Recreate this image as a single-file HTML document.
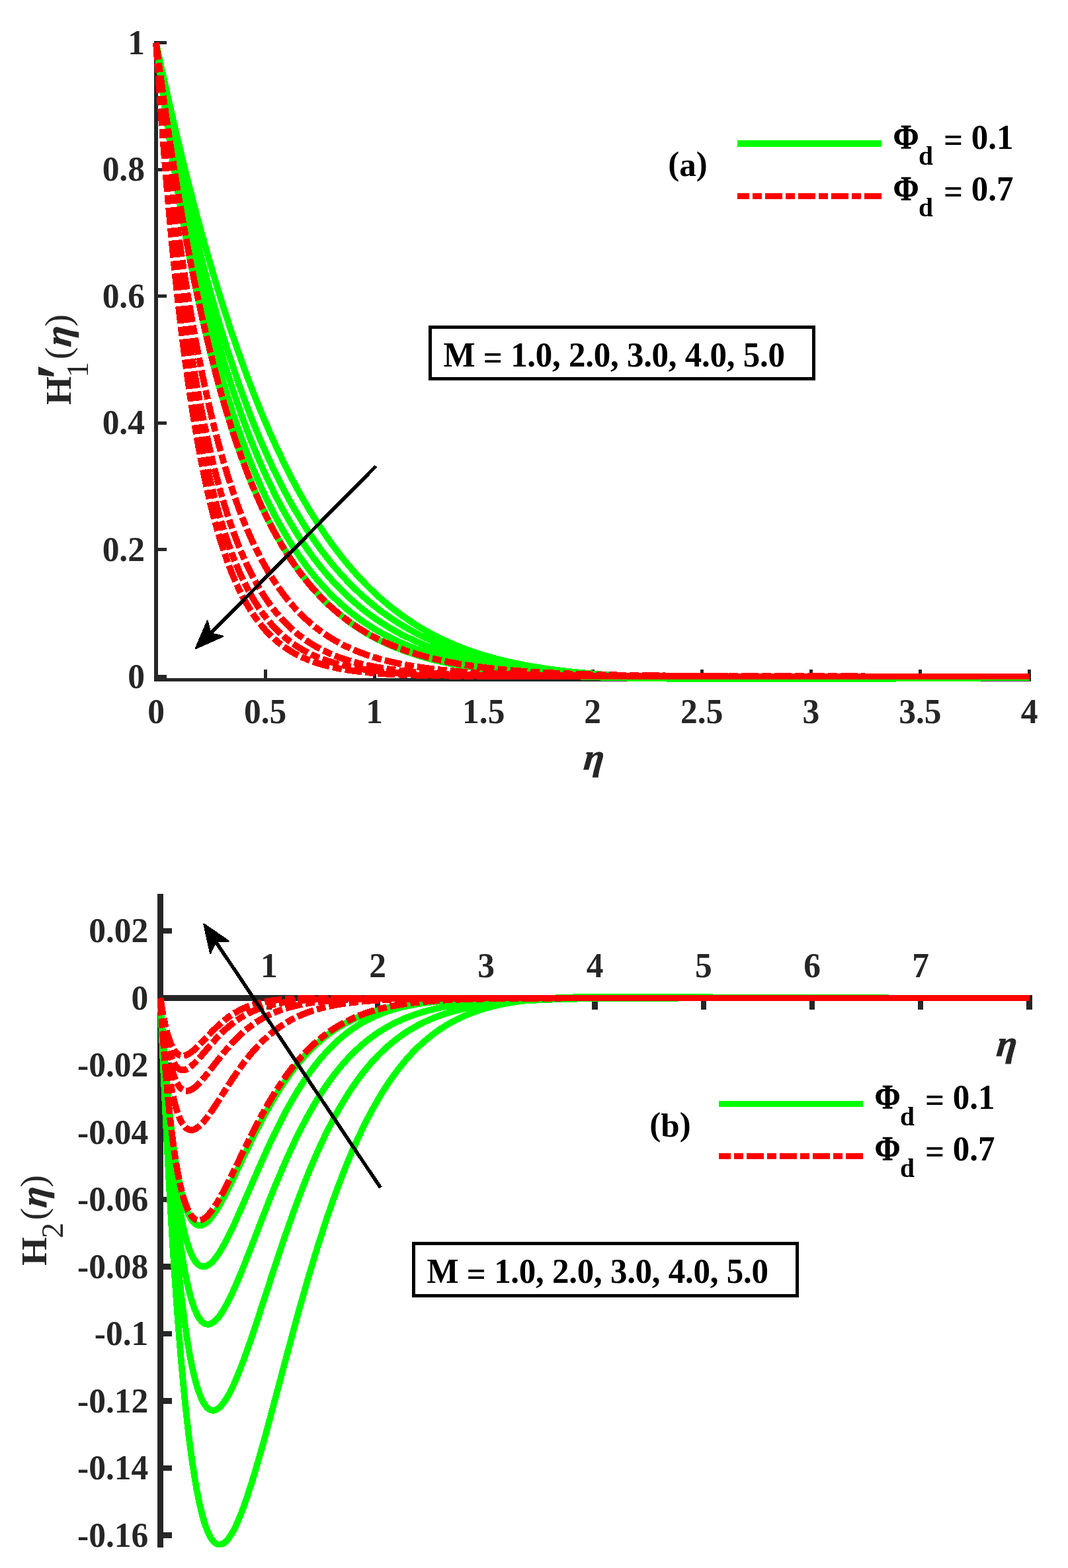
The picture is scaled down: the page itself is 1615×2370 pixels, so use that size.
<!DOCTYPE html>
<html lang="en"><head><meta charset="utf-8"><title>H1 and H2 profiles</title>
<style>html,body{margin:0;padding:0;background:#fff}svg{display:block}text{font-family:'Liberation Serif',serif;font-weight:bold;font-size:51.5px;fill:#262626}.k{fill:#000;font-size:51px}.lab{font-size:55.5px}.it{font-style:italic;stroke:#262626;stroke-width:0.9px}.rg{font-weight:normal}.g{fill:none;stroke:#00ff00;stroke-width:9.8;stroke-linejoin:round}.r{fill:none;stroke:#ff0000;stroke-width:9.8;stroke-dasharray:26 5 14 5;stroke-linejoin:round}.ax{stroke:#262626;fill:none}</style></head><body>
<svg width="1615" height="2370" viewBox="0 0 1615 2370" role="img" aria-label="Velocity profiles H1 prime and H2 versus eta for several M">
<rect width="1615" height="2370" fill="#fff"/>
<g id="top" shape-rendering="crispEdges">
<rect x="233" y="62" width="5.7" height="968" fill="#262626"/>
<rect x="233" y="1025" width="1326" height="5" fill="#262626"/>
<rect x="236" y="1020.0" width="16" height="5" fill="#262626"/>
<rect x="236" y="828.4" width="16" height="5" fill="#262626"/>
<rect x="236" y="636.8" width="16" height="5" fill="#262626"/>
<rect x="236" y="445.2" width="16" height="5" fill="#262626"/>
<rect x="236" y="253.6" width="16" height="5" fill="#262626"/>
<rect x="236" y="62.0" width="16" height="5" fill="#262626"/>
<rect x="233.5" y="1012" width="5" height="16" fill="#262626"/>
<rect x="398.6" y="1012" width="5" height="16" fill="#262626"/>
<rect x="563.6" y="1012" width="5" height="16" fill="#262626"/>
<rect x="728.7" y="1012" width="5" height="16" fill="#262626"/>
<rect x="893.8" y="1012" width="5" height="16" fill="#262626"/>
<rect x="1058.8" y="1012" width="5" height="16" fill="#262626"/>
<rect x="1223.9" y="1012" width="5" height="16" fill="#262626"/>
<rect x="1388.9" y="1012" width="5" height="16" fill="#262626"/>
<rect x="1554.0" y="1012" width="5" height="16" fill="#262626"/>
</g>
<g id="top-ticklabels">
<text transform="translate(219,1039.5) scale(1,1.04)" text-anchor="end">0</text>
<text transform="translate(219,847.9) scale(1,1.04)" text-anchor="end">0.2</text>
<text transform="translate(219,656.3) scale(1,1.04)" text-anchor="end">0.4</text>
<text transform="translate(219,464.7) scale(1,1.04)" text-anchor="end">0.6</text>
<text transform="translate(219,273.1) scale(1,1.04)" text-anchor="end">0.8</text>
<text transform="translate(219,81.5) scale(1,1.04)" text-anchor="end">1</text>
<text transform="translate(236.0,1093.3) scale(1,1.04)" text-anchor="middle">0</text>
<text transform="translate(401.1,1093.3) scale(1,1.04)" text-anchor="middle">0.5</text>
<text transform="translate(566.1,1093.3) scale(1,1.04)" text-anchor="middle">1</text>
<text transform="translate(731.2,1093.3) scale(1,1.04)" text-anchor="middle">1.5</text>
<text transform="translate(896.2,1093.3) scale(1,1.04)" text-anchor="middle">2</text>
<text transform="translate(1061.3,1093.3) scale(1,1.04)" text-anchor="middle">2.5</text>
<text transform="translate(1226.4,1093.3) scale(1,1.04)" text-anchor="middle">3</text>
<text transform="translate(1391.4,1093.3) scale(1,1.04)" text-anchor="middle">3.5</text>
<text transform="translate(1556.5,1093.3) scale(1,1.04)" text-anchor="middle">4</text>
</g>
<text class="lab it" transform="translate(881.6,1163.0) skewX(-6)">η</text>
<g transform="translate(107.0,612.0) rotate(-90)">
<text class="lab" x="0" y="0">H</text>
<text x="36.4" y="15.5" style="font-size:100px">′</text>
<text class="rg" x="41.6" y="26.0" style="font-size:47px">1</text>
<text class="lab rg" x="68.8" y="-1.3">(</text>
<text class="lab it" transform="translate(87.0,0.0) skewX(-6)">η</text>
<text class="lab rg" x="118.4" y="-1.3">)</text>
</g>
<clipPath id="ct"><rect x="229" y="62" width="1330" height="970"/></clipPath>
<g id="top-curves" shape-rendering="crispEdges" clip-path="url(#ct)">
<path class="g" d="M236.0,64.5 L245.8,110.2 L255.8,155.0 L265.7,198.1 L275.8,240.1 L285.9,280.6 L295.9,319.2 L306.2,357.1 L316.5,393.7 L326.9,428.7 L337.4,462.9 L347.8,495.1 L353.2,511.0 L358.6,526.9 L364.2,542.6 L369.5,557.4 L374.9,572.0 L380.4,586.4 L386.0,600.7 L391.3,614.0 L397.0,627.9 L402.5,640.9 L408.0,653.6 L413.6,666.2 L419.3,678.6 L425.1,690.7 L430.9,702.7 L436.7,714.4 L442.7,725.9 L448.3,736.5 L454.4,747.5 L460.2,757.6 L466.4,768.2 L472.3,777.9 L478.6,788.0 L484.6,797.2 L491.0,806.8 L497.1,815.6 L503.3,824.2 L509.9,833.0 L516.2,841.1 L522.9,849.5 L529.3,857.1 L536.1,865.0 L542.6,872.2 L549.6,879.5 L556.2,886.2 L563.2,893.1 L569.9,899.4 L577.1,905.9 L584.4,912.1 L591.6,918.0 L599.0,923.7 L606.4,929.3 L612.5,933.6 L619.2,938.1 L625.8,942.5 L632.5,946.7 L639.3,950.7 L646.1,954.6 L652.9,958.3 L660.3,962.1 L667.2,965.5 L674.6,969.0 L682.1,972.4 L689.6,975.5 L697.2,978.6 L704.8,981.5 L712.5,984.2 L720.7,987.0 L728.5,989.5 L736.8,991.9 L745.1,994.3 L753.5,996.5 L762.0,998.6 L771.0,1000.7 L780.0,1002.7 L789.2,1004.5 L798.3,1006.3 L808.1,1007.9 L817.9,1009.5 L828.3,1011.1 L849.3,1013.8 L871.1,1016.2 L893.2,1018.2 L916.7,1019.9 L942.1,1021.5 L969.1,1022.8 L998.1,1023.8 L1029.9,1024.7 L1064.5,1025.4 L1103.3,1025.9 L1131.7,1026.2 L1167.3,1026.3 L1210.9,1026.3 L1261.1,1026.2 L1386.8,1025.4 L1556.5,1024.0"/>
<path class="g" d="M236.0,64.5 L244.3,110.5 L252.7,154.9 L261.1,197.8 L269.7,239.6 L278.5,280.1 L287.3,319.2 L296.4,357.2 L305.5,393.6 L314.8,429.1 L324.0,462.5 L333.4,494.6 L338.2,510.4 L343.1,526.1 L348.1,541.6 L352.9,556.1 L358.0,571.3 L363.0,585.4 L368.0,599.4 L373.1,613.1 L378.2,626.6 L383.5,639.9 L388.8,653.0 L393.8,665.1 L399.3,677.7 L404.4,689.3 L410.0,701.4 L415.3,712.6 L421.0,724.2 L426.4,734.9 L432.2,746.0 L437.8,756.2 L443.4,766.2 L449.1,775.9 L454.8,785.4 L460.9,795.2 L466.7,804.2 L473.0,813.5 L478.9,822.0 L485.3,830.8 L491.4,838.8 L497.9,847.1 L504.0,854.7 L510.7,862.4 L517.3,869.9 L524.1,877.2 L530.9,884.2 L537.7,890.9 L544.6,897.5 L551.6,903.7 L558.6,909.8 L565.7,915.6 L572.9,921.2 L580.5,926.9 L586.9,931.4 L593.8,936.1 L600.3,940.3 L607.3,944.7 L613.9,948.6 L620.9,952.6 L628.1,956.4 L635.2,960.1 L642.5,963.6 L649.7,967.0 L657.1,970.2 L664.9,973.5 L672.8,976.6 L680.7,979.6 L688.7,982.4 L696.7,985.1 L704.8,987.6 L713.5,990.2 L722.1,992.6 L730.9,994.9 L739.7,997.0 L749.1,999.1 L758.5,1001.2 L768.0,1003.0 L777.5,1004.8 L787.6,1006.5 L797.8,1008.2 L808.1,1009.7 L829.9,1012.5 L853.0,1015.0 L876.5,1017.2 L901.4,1019.0 L928.3,1020.7 L956.7,1022.1 L987.8,1023.2 L1021.1,1024.2 L1058.0,1025.0 L1098.5,1025.6 L1129.9,1026.0 L1165.5,1026.1 L1210.3,1026.2 L1261.7,1026.1 L1388.2,1025.4 L1556.5,1024.0"/>
<path class="g" d="M236.0,64.5 L243.6,111.6 L251.2,156.9 L258.9,200.8 L266.7,243.0 L274.7,283.6 L282.8,323.4 L291.1,361.9 L299.5,398.6 L308.0,434.1 L316.8,468.4 L321.2,485.3 L325.6,501.2 L330.0,516.8 L334.5,532.4 L339.0,547.7 L343.7,562.8 L348.4,577.7 L352.9,591.6 L357.8,606.0 L362.4,619.4 L367.4,633.4 L372.2,646.4 L377.3,659.8 L382.2,672.3 L387.2,684.4 L392.2,696.4 L397.3,708.1 L402.5,719.5 L407.7,730.6 L413.0,741.5 L418.3,752.2 L423.7,762.6 L429.2,772.7 L434.7,782.5 L440.2,792.1 L445.9,801.4 L451.5,810.5 L457.3,819.3 L463.1,827.8 L468.9,836.1 L474.8,844.1 L481.2,852.4 L487.2,859.9 L493.7,867.6 L499.8,874.7 L506.4,881.9 L512.6,888.4 L519.3,895.1 L526.1,901.5 L532.9,907.7 L539.8,913.7 L546.7,919.4 L553.7,924.9 L561.1,930.5 L567.4,934.9 L573.7,939.2 L580.1,943.3 L586.9,947.5 L593.8,951.6 L600.7,955.5 L607.7,959.2 L614.8,962.7 L621.8,966.1 L629.4,969.6 L636.6,972.7 L644.3,975.8 L652.0,978.8 L659.8,981.6 L667.7,984.3 L675.6,986.9 L684.0,989.4 L692.5,991.9 L701.0,994.2 L709.6,996.3 L718.3,998.4 L727.5,1000.4 L736.8,1002.3 L746.6,1004.2 L756.5,1005.9 L766.5,1007.5 L787.1,1010.5 L809.1,1013.2 L832.0,1015.6 L855.7,1017.6 L881.3,1019.4 L908.5,1021.0 L938.2,1022.3 L969.6,1023.4 L1004.4,1024.4 L1042.1,1025.1 L1084.7,1025.7 L1127.5,1026.1 L1153.1,1026.2 L1199.0,1026.3 L1252.1,1026.1 L1383.5,1025.4 L1556.5,1024.0"/>
<path class="g" d="M236.0,64.5 L242.9,112.3 L249.9,158.8 L256.9,203.2 L264.2,246.6 L271.5,288.0 L279.1,328.5 L286.7,367.3 L294.4,404.2 L302.2,439.8 L310.2,473.9 L314.3,490.8 L318.5,507.4 L322.8,523.9 L326.9,539.2 L331.3,555.3 L335.5,570.2 L339.8,584.8 L344.2,599.2 L348.7,613.4 L353.2,627.3 L357.8,641.0 L362.1,653.6 L366.8,666.7 L371.6,679.5 L376.4,692.1 L381.0,703.6 L386.0,715.7 L390.7,726.6 L395.4,737.4 L400.5,748.6 L405.4,758.8 L410.7,769.4 L415.6,779.0 L421.0,789.1 L426.1,798.2 L431.6,807.7 L437.1,816.8 L442.7,825.7 L448.0,833.8 L453.7,842.2 L459.5,850.3 L465.3,858.1 L471.1,865.6 L477.1,872.9 L483.1,879.9 L489.5,887.1 L495.6,893.6 L502.1,900.3 L508.3,906.3 L515.0,912.4 L521.7,918.3 L528.5,924.0 L535.3,929.4 L542.6,934.8 L548.7,939.2 L554.9,943.4 L561.1,947.4 L567.4,951.2 L573.7,954.9 L580.5,958.7 L587.4,962.3 L594.2,965.8 L601.2,969.1 L608.2,972.2 L615.2,975.2 L622.7,978.3 L630.3,981.1 L637.9,983.9 L645.6,986.5 L653.8,989.0 L661.7,991.4 L670.0,993.7 L678.4,995.9 L687.3,998.0 L696.3,1000.1 L705.3,1002.0 L714.4,1003.8 L724.1,1005.5 L733.8,1007.2 L743.6,1008.7 L764.5,1011.6 L786.6,1014.2 L809.6,1016.4 L833.5,1018.3 L859.4,1020.0 L887.2,1021.4 L917.2,1022.7 L949.4,1023.7 L984.9,1024.6 L1024.6,1025.3 L1068.6,1025.8 L1140.9,1026.3 L1185.9,1026.4 L1240.0,1026.2 L1376.8,1025.5 L1556.5,1024.0"/>
<path class="g" d="M236.0,64.5 L242.5,113.6 L249.0,160.5 L255.6,205.7 L262.4,249.6 L269.4,292.2 L276.4,332.7 L283.6,372.5 L290.9,410.2 L298.4,446.4 L305.9,481.1 L310.0,498.7 L313.8,515.0 L317.7,531.2 L321.8,547.1 L325.8,562.8 L330.0,578.3 L334.2,593.5 L338.2,607.5 L342.6,622.2 L346.7,635.7 L350.9,648.9 L355.2,661.9 L359.8,675.4 L364.2,687.8 L368.6,699.9 L373.1,711.8 L377.6,723.3 L382.2,734.6 L386.9,745.6 L391.6,756.3 L396.4,766.7 L401.2,776.9 L406.1,786.7 L411.3,796.9 L416.3,806.2 L421.3,815.2 L426.4,823.9 L431.9,832.9 L437.1,841.1 L442.7,849.5 L448.0,857.1 L453.7,865.0 L459.5,872.6 L465.3,879.8 L471.1,886.9 L477.1,893.6 L483.1,900.1 L489.1,906.3 L495.2,912.3 L501.7,918.4 L508.3,924.2 L515.0,929.8 L521.7,935.1 L528.5,940.2 L534.1,944.2 L540.2,948.3 L546.3,952.2 L552.4,956.0 L558.6,959.6 L565.3,963.3 L571.6,966.6 L578.4,969.9 L585.2,973.1 L592.1,976.1 L599.0,979.0 L606.0,981.8 L613.4,984.5 L620.9,987.1 L628.5,989.6 L636.1,992.0 L643.8,994.2 L652.0,996.4 L660.3,998.5 L669.0,1000.5 L677.4,1002.3 L686.3,1004.1 L695.3,1005.8 L704.8,1007.5 L724.1,1010.4 L744.6,1013.1 L766.0,1015.4 L789.2,1017.5 L813.3,1019.3 L838.8,1020.8 L866.8,1022.2 L897.0,1023.3 L929.9,1024.2 L965.7,1025.0 L1006.1,1025.6 L1051.5,1026.0 L1132.3,1026.5 L1174.7,1026.5 L1226.7,1026.4 L1370.2,1025.5 L1556.5,1024.0"/>
<path class="r" d="M236.0,64.5 L242.5,113.4 L249.0,160.3 L255.8,206.4 L262.6,250.2 L269.5,292.9 L276.5,333.5 L283.6,372.3 L290.9,410.0 L298.4,446.3 L305.9,481.0 L313.6,514.0 L317.5,530.2 L321.5,546.2 L325.6,562.0 L329.7,577.5 L333.9,592.8 L337.9,606.9 L342.3,621.6 L346.4,635.1 L350.6,648.4 L354.9,661.4 L359.5,675.0 L363.9,687.5 L368.3,699.6 L372.8,711.5 L377.3,723.1 L381.9,734.4 L386.6,745.5 L391.3,756.2 L396.0,766.7 L400.9,776.8 L405.7,786.7 L410.7,796.3 L415.6,805.6 L420.7,814.6 L425.7,823.4 L431.2,832.4 L436.4,840.6 L442.0,849.0 L447.3,856.7 L453.0,864.5 L458.4,871.6 L464.2,878.9 L470.0,886.0 L476.0,892.7 L481.9,899.2 L488.0,905.4 L494.0,911.4 L500.6,917.5 L506.8,922.9 L513.4,928.5 L520.1,933.8 L526.9,938.8 L532.5,942.8 L538.5,946.9 L544.2,950.5 L550.4,954.3 L556.6,957.9 L562.8,961.3 L569.1,964.6 L575.4,967.7 L581.8,970.7 L588.6,973.7 L595.1,976.4 L602.0,979.2 L609.0,981.8 L616.5,984.4 L623.6,986.7 L631.2,989.0 L638.8,991.2 L646.5,993.3 L654.3,995.2 L662.6,997.2 L670.9,999.0 L679.3,1000.7 L688.2,1002.4 L697.2,1004.0 L715.9,1006.8 L735.3,1009.4 L756.0,1011.6 L778.5,1013.7 L798.9,1015.2 L820.5,1016.5 L844.0,1017.7 L869.0,1018.7 L895.9,1019.5 L925.5,1020.3 L957.2,1020.8 L992.9,1021.3 L1069.2,1021.9 L1169.8,1022.3 L1307.6,1022.4 L1556.5,1022.5"/>
<path class="r" d="M236.0,64.5 L241.3,116.6 L246.6,166.3 L252.0,213.8 L257.5,260.1 L263.2,304.6 L269.0,347.4 L275.0,389.1 L281.0,428.1 L287.1,465.3 L293.5,501.8 L299.9,536.2 L306.4,568.3 L313.1,599.4 L316.5,614.5 L320.0,629.3 L323.5,643.8 L327.1,657.9 L330.8,671.7 L334.5,685.2 L338.2,698.4 L342.0,711.2 L345.6,722.8 L349.5,734.9 L353.2,745.9 L357.2,757.4 L361.2,768.6 L365.3,779.4 L369.5,789.8 L373.7,800.0 L377.9,809.8 L382.2,819.2 L386.6,828.4 L391.0,837.2 L395.4,845.7 L399.9,854.0 L404.4,861.9 L409.3,870.0 L414.0,877.3 L419.0,884.8 L423.7,891.5 L428.8,898.5 L434.0,905.1 L439.2,911.4 L444.4,917.4 L450.1,923.5 L455.5,929.0 L461.3,934.6 L467.1,939.8 L473.0,944.8 L478.9,949.6 L484.9,954.1 L489.9,957.6 L494.8,960.9 L499.8,964.1 L505.2,967.3 L510.7,970.4 L516.2,973.4 L521.7,976.2 L527.3,978.8 L532.9,981.3 L538.9,983.9 L545.1,986.3 L551.2,988.6 L557.4,990.8 L564.1,992.9 L570.4,994.8 L577.1,996.8 L583.9,998.5 L590.8,1000.2 L598.1,1001.9 L605.5,1003.5 L620.9,1006.3 L637.5,1008.9 L654.8,1011.2 L673.2,1013.2 L692.9,1015.0 L713.9,1016.5 L732.8,1017.6 L753.0,1018.5 L775.0,1019.3 L798.9,1020.0 L824.7,1020.6 L853.0,1021.1 L884.5,1021.5 L920.5,1021.8 L996.9,1022.2 L1100.9,1022.4 L1556.5,1022.5"/>
<path class="r" d="M236.0,64.5 L240.6,118.3 L245.2,170.1 L250.0,219.9 L254.9,267.9 L259.8,313.6 L264.9,357.3 L270.1,399.6 L275.4,440.1 L280.8,478.7 L286.5,516.3 L292.2,551.5 L297.9,584.3 L303.8,615.8 L310.0,646.1 L313.1,660.7 L316.3,674.9 L319.5,688.8 L322.8,702.3 L325.8,714.5 L329.2,727.3 L332.6,739.8 L336.1,751.9 L339.6,763.6 L343.1,774.9 L346.7,785.9 L350.4,796.5 L354.0,806.8 L357.8,816.7 L361.5,826.3 L365.3,835.5 L369.2,844.4 L373.1,852.9 L377.0,861.2 L381.3,869.7 L385.3,877.2 L389.7,885.1 L394.1,892.5 L398.6,899.7 L403.1,906.5 L407.7,913.0 L412.3,919.2 L417.0,925.1 L421.7,930.7 L426.8,936.4 L431.9,941.8 L437.1,947.0 L442.3,951.8 L447.6,956.4 L453.0,960.7 L458.7,965.0 L463.1,968.1 L467.5,971.0 L471.9,973.8 L476.7,976.7 L481.6,979.4 L486.4,982.0 L491.4,984.4 L496.3,986.8 L501.3,988.9 L506.8,991.2 L512.2,993.3 L517.7,995.2 L523.3,997.1 L529.3,998.9 L541.0,1002.2 L553.3,1005.1 L566.6,1007.8 L580.5,1010.2 L595.5,1012.3 L611.7,1014.2 L628.5,1015.8 L647.0,1017.2 L666.7,1018.3 L684.0,1019.2 L702.4,1019.9 L722.1,1020.4 L744.1,1020.9 L794.3,1021.7 L858.3,1022.1 L929.4,1022.3 L1030.4,1022.5 L1556.5,1022.5"/>
<path class="r" d="M236.0,64.5 L240.2,119.9 L244.4,172.8 L248.8,224.2 L253.2,273.4 L257.7,320.0 L262.4,365.7 L267.1,408.3 L271.9,449.0 L276.7,487.4 L281.8,524.9 L287.1,561.3 L292.4,594.9 L297.9,627.2 L303.6,658.1 L306.6,673.5 L309.5,687.4 L315.3,714.1 L318.2,726.9 L321.2,739.3 L324.3,751.4 L327.4,763.1 L330.5,774.4 L333.7,785.4 L336.9,796.0 L340.4,807.1 L343.7,817.0 L347.3,827.3 L350.6,836.5 L354.3,846.0 L357.8,854.5 L361.5,863.3 L365.3,871.7 L369.2,879.8 L373.1,887.6 L377.0,894.9 L381.0,902.0 L385.0,908.7 L389.1,915.1 L393.5,921.7 L397.6,927.5 L402.2,933.5 L406.7,939.1 L411.3,944.4 L416.0,949.4 L421.0,954.5 L426.1,959.2 L431.2,963.7 L436.4,967.9 L441.6,971.9 L445.5,974.6 L449.8,977.4 L453.7,979.9 L458.0,982.4 L462.4,984.8 L466.7,987.1 L471.1,989.3 L476.0,991.5 L480.8,993.6 L485.7,995.5 L495.6,999.1 L506.0,1002.3 L517.3,1005.3 L528.9,1008.0 L541.4,1010.3 L554.5,1012.4 L568.3,1014.2 L583.1,1015.8 L599.0,1017.2 L616.5,1018.3 L635.2,1019.3 L651.1,1020.0 L668.1,1020.5 L706.7,1021.4 L754.0,1021.9 L815.3,1022.3 L882.4,1022.4 L980.4,1022.5 L1556.5,1022.5"/>
<path class="r" d="M236.0,64.5 L239.8,121.0 L243.8,175.2 L247.8,227.3 L251.8,276.8 L256.1,324.9 L260.3,370.3 L264.7,414.0 L269.2,455.7 L273.7,494.9 L278.5,533.0 L283.2,568.5 L288.2,602.6 L293.3,635.3 L298.6,666.4 L304.1,696.0 L309.5,722.7 L315.0,747.9 L317.7,759.5 L320.7,771.7 L323.5,782.5 L326.6,793.9 L329.7,804.8 L332.9,815.4 L336.1,825.6 L339.3,835.4 L342.6,844.9 L345.9,853.9 L349.2,862.6 L352.6,870.9 L356.0,878.9 L359.8,887.2 L363.3,894.5 L367.1,902.0 L370.7,908.6 L374.6,915.4 L378.5,921.9 L382.5,928.1 L386.6,933.9 L391.0,939.9 L395.1,945.1 L399.6,950.4 L404.1,955.4 L408.7,960.1 L413.3,964.5 L418.3,968.9 L423.0,972.7 L428.1,976.6 L431.9,979.2 L435.7,981.8 L439.5,984.2 L443.4,986.4 L447.3,988.6 L451.5,990.8 L455.8,992.9 L460.2,994.8 L464.5,996.7 L469.3,998.6 L478.6,1001.8 L488.3,1004.8 L498.6,1007.4 L509.5,1009.8 L520.9,1011.9 L533.3,1013.8 L546.3,1015.4 L560.3,1016.8 L575.8,1018.1 L592.5,1019.1 L610.4,1019.9 L624.9,1020.5 L641.1,1020.9 L677.9,1021.6 L722.6,1022.1 L781.6,1022.3 L939.9,1022.5 L1556.5,1022.5"/>
</g>
<g shape-rendering="crispEdges">
<path class="g" d="M1115.0,217.0 H1333.0"/>
<path class="r" stroke-dashoffset="8" d="M1115.0,296.5 H1334.0"/>
</g>
<text class="k" transform="translate(1350.7,225.0) scale(0.915,1.04)" stroke="#000" stroke-width="0.7">Φ</text>
<text class="k" x="1389.1" y="248.7" style="font-size:39.5px">d</text>
<text class="k" transform="translate(1427.0,225.0) scale(1,1.05)"><tspan dy="3.6">=</tspan><tspan dy="-3.6"> 0.1</tspan></text>
<text class="k" transform="translate(1350.7,303.0) scale(0.915,1.04)" stroke="#000" stroke-width="0.7">Φ</text>
<text class="k" x="1389.1" y="326.7" style="font-size:39.5px">d</text>
<text class="k" transform="translate(1427.0,303.0) scale(1,1.05)"><tspan dy="3.6">=</tspan><tspan dy="-3.6"> 0.7</tspan></text>
<text class="k" x="1010.3" y="266.0"><tspan dy="-2.2">(</tspan><tspan dy="2.2">a</tspan><tspan dy="-2.2">)</tspan></text>
<rect x="650.5" y="494.5" width="580.0" height="78.0" fill="#fff" stroke="#000" stroke-width="5" shape-rendering="crispEdges"/>
<text class="k" transform="translate(670.5,554.0) scale(1,1.03)" style="letter-spacing:-0.27px">M <tspan dy="4">=</tspan><tspan dy="-4"> 1.0, 2.0, 3.0, 4.0, 5.0</tspan></text>
<line x1="568.5" y1="704.5" x2="318.4" y2="957.3" stroke="#000" stroke-width="5.5" shape-rendering="crispEdges"/>
<polygon fill="#000" stroke="#000" stroke-width="2.4" stroke-linejoin="round" shape-rendering="crispEdges" points="296.0,980.0 313.7,938.6 318.4,957.3 337.2,961.8"/>
<g id="bottom" shape-rendering="crispEdges">
<rect x="238.3" y="1351" width="8.4" height="988" fill="#262626"/>
<rect x="238.3" y="1504.3" width="1322.8" height="8.4" fill="#262626"/>
<rect x="242" y="2316.3" width="18.2" height="8.4" fill="#262626"/>
<rect x="242" y="2214.8" width="18.2" height="8.4" fill="#262626"/>
<rect x="242" y="2113.3" width="18.2" height="8.4" fill="#262626"/>
<rect x="242" y="2011.8" width="18.2" height="8.4" fill="#262626"/>
<rect x="242" y="1910.3" width="18.2" height="8.4" fill="#262626"/>
<rect x="242" y="1808.8" width="18.2" height="8.4" fill="#262626"/>
<rect x="242" y="1707.3" width="18.2" height="8.4" fill="#262626"/>
<rect x="242" y="1605.8" width="18.2" height="8.4" fill="#262626"/>
<rect x="242" y="1402.8" width="18.2" height="8.4" fill="#262626"/>
<rect x="402.6" y="1508" width="8.4" height="17.8" fill="#262626"/>
<rect x="566.8" y="1508" width="8.4" height="17.8" fill="#262626"/>
<rect x="731.0" y="1508" width="8.4" height="17.8" fill="#262626"/>
<rect x="895.3" y="1508" width="8.4" height="17.8" fill="#262626"/>
<rect x="1059.5" y="1508" width="8.4" height="17.8" fill="#262626"/>
<rect x="1223.8" y="1508" width="8.4" height="17.8" fill="#262626"/>
<rect x="1388.0" y="1508" width="8.4" height="17.8" fill="#262626"/>
<rect x="1552.3" y="1508" width="8.4" height="17.8" fill="#262626"/>
</g>
<g id="bottom-ticklabels">
<text transform="translate(224.3,2337.5) scale(1,1.04)" text-anchor="end">-0.16</text>
<text transform="translate(224.3,2236.0) scale(1,1.04)" text-anchor="end">-0.14</text>
<text transform="translate(224.3,2134.5) scale(1,1.04)" text-anchor="end">-0.12</text>
<text transform="translate(224.3,2033.0) scale(1,1.04)" text-anchor="end">-0.1</text>
<text transform="translate(224.3,1931.5) scale(1,1.04)" text-anchor="end">-0.08</text>
<text transform="translate(224.3,1830.0) scale(1,1.04)" text-anchor="end">-0.06</text>
<text transform="translate(224.3,1728.5) scale(1,1.04)" text-anchor="end">-0.04</text>
<text transform="translate(224.3,1627.0) scale(1,1.04)" text-anchor="end">-0.02</text>
<text transform="translate(224.3,1525.5) scale(1,1.04)" text-anchor="end">0</text>
<text transform="translate(224.3,1424.0) scale(1,1.04)" text-anchor="end">0.02</text>
<text transform="translate(406.8,1477.3) scale(1,1.04)" text-anchor="middle">1</text>
<text transform="translate(571.0,1477.3) scale(1,1.04)" text-anchor="middle">2</text>
<text transform="translate(735.2,1477.3) scale(1,1.04)" text-anchor="middle">3</text>
<text transform="translate(899.5,1477.3) scale(1,1.04)" text-anchor="middle">4</text>
<text transform="translate(1063.8,1477.3) scale(1,1.04)" text-anchor="middle">5</text>
<text transform="translate(1228.0,1477.3) scale(1,1.04)" text-anchor="middle">6</text>
<text transform="translate(1392.2,1477.3) scale(1,1.04)" text-anchor="middle">7</text>
</g>
<text class="lab it" transform="translate(1505.8,1595.5) skewX(-6)">η</text>
<g transform="translate(70.0,1913.0) rotate(-90)">
<text class="lab" x="0" y="0">H</text>
<text class="rg" x="41.6" y="25.0" style="font-size:47px">2</text>
<text class="lab rg" x="68.8" y="-1.3">(</text>
<text class="lab it" transform="translate(87.0,0.0) skewX(-6)">η</text>
<text class="lab rg" x="118.4" y="-1.3">)</text>
</g>
<clipPath id="cb"><rect x="236" y="1351.5" width="1326" height="987.3"/></clipPath>
<g id="bottom-curves" shape-rendering="crispEdges" clip-path="url(#cb)">
<path class="g" d="M242.5,1508.5 L247.0,1613.4 L251.6,1710.1 L254.0,1755.9 L256.3,1799.1 L258.7,1840.9 L261.1,1880.9 L263.6,1919.7 L266.1,1956.0 L268.6,1990.5 L271.2,2023.2 L273.7,2054.0 L276.4,2083.7 L279.0,2111.3 L281.8,2137.6 L284.5,2161.8 L287.3,2184.6 L290.1,2205.3 L292.9,2224.5 L295.8,2242.3 L298.8,2258.7 L301.9,2273.5 L304.9,2286.2 L306.5,2292.2 L308.1,2297.9 L309.8,2303.1 L311.3,2307.6 L313.0,2312.1 L314.5,2315.8 L316.1,2319.3 L317.8,2322.6 L319.4,2325.3 L321.2,2327.8 L322.9,2330.0 L324.7,2331.7 L326.4,2332.9 L328.2,2333.9 L330.0,2334.5 L331.9,2334.7 L332.9,2334.7 L334.1,2334.5 L335.2,2334.1 L336.4,2333.7 L338.7,2332.3 L341.1,2330.4 L343.5,2327.9 L346.0,2324.9 L348.4,2321.3 L351.1,2317.0 L353.6,2312.5 L356.3,2307.1 L359.0,2301.2 L361.7,2294.8 L364.5,2287.9 L367.5,2280.1 L370.5,2271.8 L373.7,2262.5 L378.7,2247.3 L383.9,2230.4 L389.4,2211.8 L395.4,2191.0 L401.1,2170.5 L407.4,2147.1 L434.7,2044.7 L447.5,1997.2 L454.4,1972.4 L461.2,1948.5 L467.8,1925.7 L474.1,1904.6 L481.4,1881.0 L488.6,1858.7 L495.8,1836.9 L502.9,1816.4 L510.1,1796.6 L517.1,1778.0 L524.2,1760.0 L531.4,1742.8 L539.0,1725.6 L546.6,1709.3 L554.3,1693.7 L561.8,1679.3 L569.7,1665.3 L577.6,1652.0 L585.6,1639.4 L589.6,1633.6 L593.8,1627.7 L597.7,1622.2 L602.0,1616.6 L606.2,1611.2 L610.5,1606.0 L614.8,1600.9 L619.2,1596.1 L623.5,1591.4 L627.9,1586.9 L632.3,1582.6 L637.0,1578.2 L641.4,1574.2 L646.2,1570.1 L650.7,1566.5 L655.5,1562.8 L660.3,1559.3 L665.1,1555.9 L673.5,1550.5 L682.2,1545.4 L690.9,1540.8 L700.1,1536.5 L709.3,1532.5 L718.9,1528.9 L728.9,1525.6 L739.3,1522.6 L749.8,1519.9 L761.0,1517.5 L772.3,1515.4 L784.4,1513.5 L797.2,1511.9 L810.5,1510.5 L824.6,1509.4 L839.8,1508.4 L859.3,1507.6 L881.1,1507.0 L905.3,1506.6 L933.5,1506.5 L978.2,1506.7 L1120.2,1507.7 L1209.9,1508.1 L1343.9,1508.4 L1556.5,1508.5"/>
<path class="g" d="M242.5,1508.5 L246.5,1587.6 L250.5,1660.5 L254.7,1728.1 L256.8,1759.2 L258.9,1789.7 L261.1,1819.2 L263.3,1846.6 L265.6,1872.6 L267.8,1897.2 L270.1,1921.1 L272.5,1943.3 L274.8,1963.9 L277.2,1983.6 L279.7,2002.2 L282.2,2019.1 L284.7,2035.0 L287.2,2049.2 L289.9,2062.9 L292.5,2074.9 L295.2,2085.8 L297.9,2095.5 L300.7,2104.1 L303.6,2111.6 L305.1,2114.8 L306.5,2117.8 L308.0,2120.5 L309.5,2122.9 L311.0,2125.0 L312.6,2126.9 L314.1,2128.4 L315.7,2129.6 L317.3,2130.6 L318.9,2131.3 L320.5,2131.7 L322.1,2131.8 L324.0,2131.6 L326.1,2131.0 L328.2,2130.0 L330.3,2128.6 L332.5,2126.7 L334.6,2124.5 L336.8,2121.9 L339.0,2119.0 L341.3,2115.6 L343.7,2111.7 L346.1,2107.4 L348.6,2102.7 L351.1,2097.6 L353.6,2092.2 L359.0,2079.7 L363.4,2068.8 L368.0,2056.6 L372.9,2043.2 L378.2,2028.0 L388.9,1996.2 L414.0,1919.2 L426.1,1882.9 L432.6,1863.7 L438.9,1845.9 L445.0,1828.7 L451.1,1812.5 L458.0,1794.3 L464.8,1777.1 L471.5,1760.8 L478.3,1745.1 L485.2,1729.8 L491.9,1715.6 L498.8,1701.9 L505.4,1689.1 L512.9,1675.7 L520.2,1663.3 L527.6,1651.5 L535.1,1640.3 L542.6,1629.7 L550.3,1619.7 L558.0,1610.3 L566.1,1601.2 L574.3,1592.7 L578.4,1588.7 L582.5,1584.9 L590.9,1577.5 L595.1,1574.1 L599.6,1570.6 L603.8,1567.4 L608.4,1564.1 L612.9,1561.1 L617.5,1558.1 L622.2,1555.3 L627.1,1552.4 L631.8,1549.8 L636.7,1547.3 L645.4,1543.1 L654.1,1539.3 L663.2,1535.8 L672.3,1532.6 L681.9,1529.6 L691.8,1526.9 L702.1,1524.4 L712.9,1522.1 L724.0,1520.1 L735.9,1518.2 L748.2,1516.6 L761.0,1515.2 L774.5,1513.9 L789.2,1512.8 L804.6,1511.9 L821.3,1511.1 L849.5,1510.1 L882.5,1509.4 L921.5,1509.0 L970.6,1508.7 L1093.9,1508.5 L1556.5,1508.5"/>
<path class="g" d="M242.5,1508.5 L246.0,1570.9 L249.6,1629.2 L253.4,1682.4 L257.2,1731.9 L259.2,1755.2 L261.1,1776.6 L263.1,1797.0 L265.2,1816.8 L267.2,1835.4 L269.3,1852.6 L271.4,1869.2 L273.6,1885.0 L275.8,1899.3 L278.1,1912.9 L280.3,1925.1 L282.6,1936.4 L284.9,1946.9 L287.3,1956.5 L289.7,1965.2 L292.3,1973.0 L294.8,1979.8 L297.3,1985.5 L298.6,1988.0 L300.0,1990.5 L301.3,1992.6 L302.8,1994.6 L304.1,1996.2 L305.5,1997.7 L306.9,1998.9 L308.4,2000.0 L309.8,2000.7 L311.3,2001.3 L312.7,2001.6 L314.3,2001.7 L316.0,2001.6 L317.8,2001.2 L319.7,2000.4 L321.6,1999.3 L323.5,1998.0 L325.4,1996.3 L327.4,1994.4 L329.5,1992.0 L331.5,1989.5 L333.6,1986.6 L335.8,1983.3 L338.0,1979.8 L342.6,1971.7 L347.5,1962.2 L351.4,1954.0 L355.6,1944.6 L360.1,1934.2 L364.9,1922.8 L374.8,1898.0 L398.5,1836.6 L410.0,1807.3 L416.3,1791.7 L422.4,1777.3 L428.3,1763.4 L434.0,1750.3 L440.7,1735.6 L447.3,1721.7 L453.8,1708.6 L460.3,1696.0 L467.0,1683.7 L473.5,1672.3 L480.1,1661.3 L486.5,1651.1 L493.8,1640.3 L500.8,1630.4 L508.0,1621.0 L515.2,1612.0 L522.6,1603.6 L530.2,1595.4 L538.0,1587.8 L545.8,1580.6 L553.8,1573.9 L562.1,1567.5 L570.4,1561.6 L578.9,1556.2 L587.7,1551.0 L596.9,1546.2 L606.2,1541.8 L615.9,1537.7 L624.1,1534.7 L632.6,1531.8 L641.4,1529.0 L650.4,1526.6 L660.0,1524.3 L669.7,1522.2 L679.8,1520.3 L690.3,1518.6 L701.2,1517.1 L712.6,1515.7 L724.6,1514.5 L737.4,1513.4 L751.0,1512.5 L765.4,1511.6 L780.5,1510.9 L797.2,1510.3 L825.2,1509.6 L857.6,1509.1 L896.3,1508.8 L945.6,1508.6 L1071.4,1508.5 L1556.5,1508.5"/>
<path class="g" d="M242.5,1508.5 L245.6,1560.0 L248.8,1607.8 L252.1,1651.9 L255.6,1692.4 L259.1,1729.3 L260.9,1746.4 L262.7,1762.4 L264.6,1777.9 L266.5,1792.2 L268.5,1805.9 L270.4,1818.5 L272.4,1830.4 L274.4,1841.1 L276.5,1851.6 L278.5,1860.9 L280.7,1869.5 L282.9,1877.4 L285.1,1884.5 L287.4,1890.9 L289.6,1896.3 L292.0,1901.1 L294.5,1905.2 L295.7,1907.0 L297.0,1908.6 L298.3,1909.9 L299.5,1911.1 L300.8,1912.1 L302.2,1913.0 L303.5,1913.6 L304.8,1914.1 L306.2,1914.3 L307.6,1914.4 L309.3,1914.3 L311.0,1913.9 L312.7,1913.3 L314.5,1912.4 L316.4,1911.2 L318.2,1909.8 L320.1,1908.1 L322.0,1906.2 L323.9,1904.0 L326.0,1901.5 L330.0,1895.8 L334.3,1889.0 L339.0,1880.8 L342.8,1873.8 L346.7,1866.0 L351.1,1857.0 L355.6,1847.2 L365.0,1826.1 L387.5,1774.4 L398.3,1749.9 L404.2,1736.8 L409.8,1724.7 L415.4,1713.1 L420.8,1702.1 L427.1,1689.8 L433.2,1678.1 L439.3,1667.2 L445.5,1656.5 L451.5,1646.6 L457.6,1637.0 L463.8,1627.7 L469.8,1619.2 L476.3,1610.4 L483.0,1602.1 L489.7,1594.3 L496.5,1586.8 L503.4,1579.8 L510.3,1573.2 L517.4,1567.1 L524.5,1561.4 L531.9,1555.9 L539.5,1550.8 L547.1,1546.2 L555.0,1541.8 L563.1,1537.8 L571.5,1534.1 L579.9,1530.8 L588.8,1527.7 L595.9,1525.5 L603.0,1523.5 L610.5,1521.7 L618.1,1520.0 L626.3,1518.4 L634.5,1517.0 L643.1,1515.7 L652.1,1514.6 L661.4,1513.6 L671.2,1512.7 L681.6,1511.9 L692.4,1511.2 L703.9,1510.6 L716.5,1510.1 L744.8,1509.4 L767.2,1509.0 L794.0,1508.8 L869.1,1508.5 L1556.5,1508.5"/>
<path class="g" d="M242.5,1508.5 L245.4,1552.2 L248.4,1592.5 L251.4,1629.9 L254.6,1664.1 L257.8,1695.1 L261.1,1723.4 L262.8,1736.1 L264.5,1748.4 L266.3,1760.1 L268.1,1770.8 L270.0,1781.0 L271.8,1790.1 L273.7,1799.1 L275.6,1807.1 L277.6,1814.4 L279.6,1821.1 L281.7,1827.2 L283.7,1832.4 L285.8,1837.1 L287.9,1841.1 L290.1,1844.4 L292.4,1847.3 L293.5,1848.4 L294.7,1849.5 L295.8,1850.3 L297.1,1851.0 L298.3,1851.5 L299.5,1852.0 L300.7,1852.2 L302.0,1852.3 L303.5,1852.2 L304.9,1851.9 L306.4,1851.4 L308.0,1850.7 L309.5,1849.8 L311.2,1848.7 L312.7,1847.5 L314.4,1846.0 L317.8,1842.4 L321.4,1837.9 L325.3,1832.4 L329.2,1826.3 L332.5,1820.7 L335.9,1814.5 L339.6,1807.6 L343.7,1799.8 L352.2,1782.6 L372.9,1739.1 L383.2,1717.9 L388.9,1706.7 L394.3,1696.3 L399.6,1686.3 L404.8,1676.9 L410.8,1666.3 L416.7,1656.3 L422.7,1646.7 L428.7,1637.6 L434.7,1628.9 L440.5,1620.8 L446.5,1613.0 L452.5,1605.6 L459.1,1598.0 L465.7,1590.8 L472.4,1584.1 L479.2,1577.7 L486.1,1571.7 L493.3,1565.9 L500.4,1560.6 L507.8,1555.6 L515.2,1550.9 L523.0,1546.5 L531.0,1542.4 L539.0,1538.7 L547.3,1535.2 L556.0,1532.0 L565.1,1529.0 L574.3,1526.3 L581.8,1524.3 L589.6,1522.5 L597.7,1520.8 L606.0,1519.3 L614.6,1517.9 L623.5,1516.6 L632.9,1515.4 L642.8,1514.4 L652.9,1513.4 L663.7,1512.6 L675.2,1511.9 L687.1,1511.2 L713.5,1510.2 L743.9,1509.5 L769.4,1509.1 L799.8,1508.8 L884.2,1508.6 L1556.5,1508.5"/>
<path class="r" d="M242.5,1508.5 L245.3,1551.6 L248.2,1591.2 L251.2,1627.8 L254.3,1661.2 L257.4,1691.3 L260.6,1718.7 L262.3,1731.3 L264.0,1743.4 L265.7,1754.5 L267.5,1765.1 L269.3,1775.1 L271.1,1784.2 L272.9,1792.6 L274.8,1800.4 L276.7,1807.7 L278.6,1814.0 L280.7,1819.9 L282.7,1825.0 L284.7,1829.5 L286.9,1833.6 L289.0,1836.9 L291.3,1839.7 L293.5,1841.7 L294.6,1842.5 L295.8,1843.3 L297.0,1843.8 L298.3,1844.2 L299.4,1844.4 L300.7,1844.5 L302.2,1844.4 L303.6,1844.1 L305.1,1843.6 L306.7,1842.9 L308.1,1842.1 L309.8,1841.0 L311.3,1839.8 L313.0,1838.3 L316.4,1834.7 L319.8,1830.5 L323.5,1825.4 L327.5,1819.2 L330.7,1813.8 L334.2,1807.7 L337.9,1801.0 L341.7,1793.6 L350.1,1776.9 L370.9,1734.3 L381.1,1713.6 L386.7,1702.7 L392.3,1692.1 L397.6,1682.4 L402.7,1673.2 L408.7,1662.9 L414.6,1653.2 L420.6,1643.8 L426.5,1634.9 L432.4,1626.4 L438.3,1618.5 L444.4,1610.6 L450.4,1603.4 L456.9,1596.0 L463.5,1588.9 L470.2,1582.3 L477.2,1575.8 L484.1,1570.0 L491.3,1564.3 L498.3,1559.2 L505.7,1554.2 L513.1,1549.7 L520.9,1545.3 L528.8,1541.4 L537.0,1537.6 L545.3,1534.2 L554.0,1531.0 L563.1,1528.1 L572.2,1525.5 L579.7,1523.6 L587.5,1521.8 L595.3,1520.2 L603.6,1518.8 L612.1,1517.4 L620.8,1516.2 L630.1,1515.1 L639.8,1514.1 L649.8,1513.2 L660.3,1512.4 L671.5,1511.7 L683.3,1511.0 L709.3,1510.1 L739.3,1509.4 L764.4,1509.0 L794.0,1508.8 L876.3,1508.5 L1556.5,1508.5"/>
<path class="r" d="M242.5,1508.5 L244.8,1534.0 L247.1,1557.3 L249.6,1579.1 L252.0,1599.0 L254.6,1616.8 L257.2,1633.3 L259.9,1647.7 L262.7,1660.7 L264.1,1666.6 L265.6,1672.1 L267.1,1677.2 L268.5,1681.8 L270.1,1686.0 L271.6,1689.8 L273.2,1693.3 L274.8,1696.4 L276.5,1699.2 L278.2,1701.5 L279.9,1703.5 L281.7,1705.2 L283.5,1706.4 L285.3,1707.3 L287.2,1707.8 L289.1,1708.0 L291.3,1707.8 L293.6,1707.1 L296.0,1706.0 L298.5,1704.4 L301.1,1702.4 L303.7,1700.0 L306.5,1697.1 L309.5,1693.6 L314.7,1687.0 L320.5,1678.7 L327.1,1668.8 L344.0,1642.3 L352.3,1629.6 L361.3,1616.6 L365.5,1610.7 L369.8,1604.9 L374.8,1598.6 L379.7,1592.5 L384.6,1586.9 L389.4,1581.6 L394.5,1576.3 L399.4,1571.5 L404.4,1566.9 L409.5,1562.5 L415.0,1558.1 L420.6,1553.9 L426.3,1550.0 L432.2,1546.2 L438.3,1542.6 L444.4,1539.4 L450.6,1536.3 L457.2,1533.5 L463.8,1530.8 L470.7,1528.4 L477.7,1526.1 L485.0,1524.0 L492.6,1522.1 L500.4,1520.4 L508.5,1518.8 L517.1,1517.3 L531.0,1515.4 L545.8,1513.8 L562.1,1512.4 L579.9,1511.3 L599.6,1510.5 L621.9,1509.8 L647.6,1509.3 L678.1,1508.9 L735.3,1508.6 L824.6,1508.5 L1556.5,1508.5"/>
<path class="r" d="M242.5,1508.5 L244.4,1526.3 L246.4,1542.7 L248.5,1558.0 L250.6,1572.0 L252.8,1584.8 L255.0,1596.3 L257.3,1606.6 L259.7,1615.8 L262.1,1623.6 L264.7,1630.5 L266.0,1633.5 L267.3,1636.2 L268.7,1638.7 L270.1,1640.8 L271.5,1642.8 L272.9,1644.4 L274.4,1645.8 L275.9,1646.9 L277.4,1647.8 L279.0,1648.4 L280.6,1648.8 L282.3,1648.9 L284.1,1648.8 L286.0,1648.3 L288.0,1647.6 L290.2,1646.5 L292.4,1645.1 L294.6,1643.4 L297.0,1641.4 L299.4,1639.0 L303.8,1634.4 L308.8,1628.7 L314.5,1621.5 L329.2,1602.6 L336.5,1593.4 L344.4,1584.0 L352.0,1575.6 L356.4,1570.9 L360.8,1566.6 L365.2,1562.5 L369.5,1558.6 L373.9,1555.0 L378.4,1551.5 L382.9,1548.1 L387.3,1545.1 L392.3,1541.9 L397.4,1538.9 L402.5,1536.1 L407.8,1533.5 L413.1,1531.1 L418.7,1528.8 L424.3,1526.7 L430.2,1524.7 L436.3,1522.9 L442.6,1521.2 L449.0,1519.7 L455.7,1518.2 L462.7,1517.0 L469.8,1515.8 L477.4,1514.7 L485.4,1513.8 L497.6,1512.6 L511.0,1511.6 L525.4,1510.8 L541.7,1510.1 L559.5,1509.6 L579.7,1509.2 L603.3,1508.9 L631.8,1508.7 L683.6,1508.6 L766.9,1508.5 L1556.5,1508.5"/>
<path class="r" d="M242.5,1508.5 L244.2,1522.3 L245.9,1535.1 L247.6,1547.0 L249.5,1557.9 L251.3,1567.7 L253.2,1576.7 L255.2,1584.7 L257.2,1591.6 L259.3,1597.6 L261.4,1602.9 L263.7,1607.5 L264.9,1609.4 L266.0,1611.1 L267.2,1612.5 L268.5,1613.8 L269.7,1614.9 L271.0,1615.8 L272.3,1616.5 L273.6,1617.0 L275.0,1617.3 L276.5,1617.4 L278.1,1617.3 L279.7,1617.0 L281.4,1616.4 L283.2,1615.6 L285.0,1614.5 L286.9,1613.3 L288.9,1611.7 L291.0,1609.9 L295.4,1605.7 L300.5,1600.3 L305.3,1594.8 L318.2,1579.6 L325.3,1571.7 L331.2,1565.4 L336.8,1559.8 L340.7,1556.2 L344.4,1552.8 L348.3,1549.6 L352.2,1546.5 L356.1,1543.5 L360.0,1540.8 L363.9,1538.3 L367.8,1535.9 L372.2,1533.4 L376.8,1531.0 L381.3,1528.9 L386.0,1526.9 L390.9,1525.0 L395.7,1523.2 L400.9,1521.6 L406.1,1520.1 L411.6,1518.7 L417.1,1517.5 L422.9,1516.3 L429.1,1515.2 L435.5,1514.3 L442.2,1513.4 L449.2,1512.6 L456.5,1511.9 L467.2,1511.1 L478.8,1510.5 L491.5,1509.9 L505.9,1509.5 L521.6,1509.2 L539.9,1508.9 L587.5,1508.6 L709.0,1508.5 L1556.5,1508.5"/>
<path class="r" d="M242.5,1508.5 L244.2,1519.5 L245.9,1529.7 L247.7,1539.2 L249.5,1547.8 L251.4,1555.7 L253.3,1562.9 L255.3,1569.4 L257.3,1575.0 L259.3,1579.9 L261.5,1584.2 L263.7,1587.8 L264.9,1589.4 L266.0,1590.8 L267.2,1592.0 L268.5,1593.1 L269.6,1593.9 L270.9,1594.6 L272.1,1595.2 L273.5,1595.6 L274.8,1595.8 L276.2,1595.9 L277.8,1595.8 L279.5,1595.5 L281.3,1594.9 L283.1,1594.2 L284.9,1593.2 L286.9,1592.0 L288.9,1590.6 L291.0,1589.0 L294.8,1585.7 L299.2,1581.5 L304.0,1576.7 L315.6,1564.5 L321.3,1558.6 L327.4,1552.6 L333.2,1547.3 L339.8,1541.7 L346.4,1536.7 L353.1,1532.2 L359.8,1528.3 L363.5,1526.3 L367.3,1524.5 L371.2,1522.8 L375.1,1521.2 L379.0,1519.8 L383.2,1518.4 L387.5,1517.2 L391.7,1516.0 L396.3,1515.0 L400.9,1514.0 L410.6,1512.4 L421.2,1511.2 L432.8,1510.2 L447.5,1509.4 L464.8,1508.9 L486.1,1508.6 L515.9,1508.5 L1556.5,1508.5"/>
</g>
<g shape-rendering="crispEdges">
<path class="g" d="M1087.0,1668.4 H1305.0"/>
<path class="r" stroke-dashoffset="8" d="M1087.0,1747.5 H1306.0"/>
</g>
<text class="k" transform="translate(1322.7,1675.8) scale(0.915,1.04)" stroke="#000" stroke-width="0.7">Φ</text>
<text class="k" x="1361.1" y="1701.2" style="font-size:39.5px">d</text>
<text class="k" transform="translate(1399.0,1675.8) scale(1,1.05)"><tspan dy="3.6">=</tspan><tspan dy="-3.6"> 0.1</tspan></text>
<text class="k" transform="translate(1322.7,1753.8) scale(0.915,1.04)" stroke="#000" stroke-width="0.7">Φ</text>
<text class="k" x="1361.1" y="1779.2" style="font-size:39.5px">d</text>
<text class="k" transform="translate(1399.0,1753.8) scale(1,1.05)"><tspan dy="3.6">=</tspan><tspan dy="-3.6"> 0.7</tspan></text>
<text class="k" x="982.3" y="1718.0"><tspan dy="-2.2">(</tspan><tspan dy="2.2">b</tspan><tspan dy="-2.2">)</tspan></text>
<rect x="625.5" y="1879.5" width="580.0" height="79.0" fill="#fff" stroke="#000" stroke-width="5" shape-rendering="crispEdges"/>
<text class="k" transform="translate(645.5,1939.0) scale(1,1.03)" style="letter-spacing:-0.27px">M <tspan dy="4">=</tspan><tspan dy="-4"> 1.0, 2.0, 3.0, 4.0, 5.0</tspan></text>
<line x1="575.3" y1="1795.0" x2="326.2" y2="1423.2" stroke="#000" stroke-width="5.5" shape-rendering="crispEdges"/>
<polygon fill="#000" stroke="#000" stroke-width="2.4" stroke-linejoin="round" shape-rendering="crispEdges" points="308.5,1396.8 345.5,1422.4 326.2,1423.2 318.1,1440.7"/>
</svg></body></html>
